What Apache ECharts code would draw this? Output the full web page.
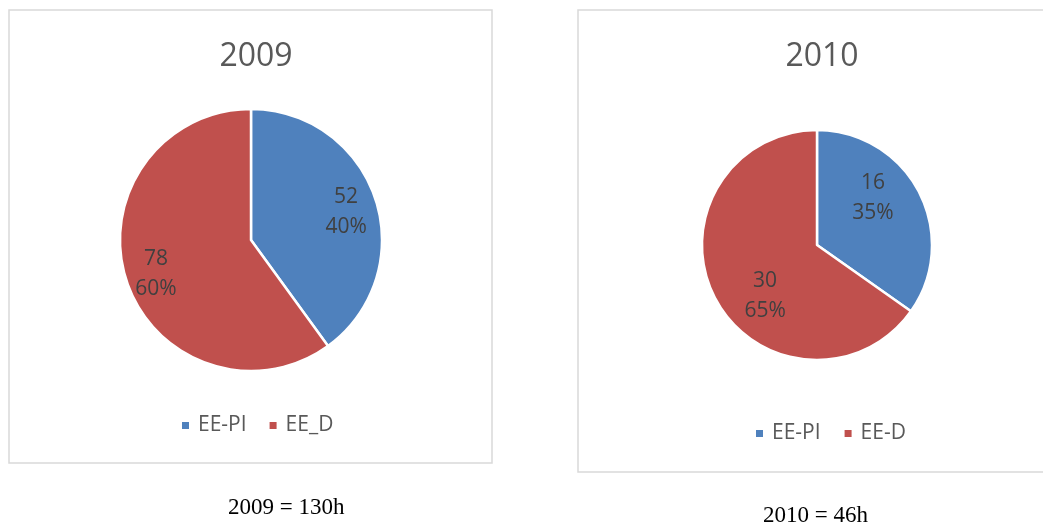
<!DOCTYPE html>
<html>
<head>
<meta charset="utf-8">
<script src="https://cdn.jsdelivr.net/npm/echarts@6/dist/echarts.min.js"></script>
<style>
  html, body { margin: 0; padding: 0; background: #fff; }
  #EchartPies { width: 1043px; height: 524px; }
</style>
</head>
<body>
<div id="EchartPies"></div>
<script>
const titles = ['2009', '2010']
const names2009 = ['EE-PI', 'EE_D']
const values2009 = [52, 78]
const names2010 = ['EE-PI', 'EE-D']
const values2010 = [16, 30]
const captions = ['2009 = 130h', '2010 = 46h']

const colors = ['#4f81bd', '#c0504d']

function toData(names, values) {
  return names.map((n, i) => ({ name: n, value: values[i] }))
}

function pieSeries(names, values, center, r) {
  return {
    type: 'pie',
    center: center,
    radius: [0, r],
    startAngle: 90,
    clockwise: true,
    percentPrecision: 0,
    silent: true,
    label: { show: false },
    labelLine: { show: false },
    emphasis: { disabled: true },
    itemStyle: {
      color: (p) => colors[p.dataIndex],
      borderColor: '#fff',
      borderWidth: 2.5
    },
    data: toData(names, values)
  }
}

// transparent ring on top, only used to put the labels where excel puts them
function labelSeries(names, values, center, r0, r, offsets) {
  const data = toData(names, values).map((d, i) => {
    d.label = { offset: offsets[i] }
    return d
  })
  return {
    type: 'pie',
    center: center,
    radius: [r0, r],
    startAngle: 90,
    clockwise: true,
    percentPrecision: 0,
    silent: true,
    emphasis: { disabled: true },
    itemStyle: { color: 'rgba(0,0,0,0)' },
    labelLine: { show: false },
    label: {
      show: true,
      position: 'inside',
      formatter: '{c}\n{d}%',
      fontFamily: 'Open Sans',
      fontSize: 21,
      lineHeight: 30,
      color: '#404040'
    },
    data: data
  }
}

function initEchart() {
  const chartDom = document.getElementById('EchartPies')
  const echartInstance = echarts.init(chartDom)

  const legendText = { fontFamily: 'Open Sans', fontSize: 21, color: '#595959', padding: [0, 0, 0, 3] }

  const option = {
    animation: false,
    title: [
      {
        text: titles[0],
        left: 251,
        top: 36,
        textAlign: 'center',
        textStyle: { fontFamily: 'Open Sans', fontSize: 32, fontWeight: 'normal', color: '#595959' }
      },
      {
        text: titles[1],
        left: 817,
        top: 36,
        textAlign: 'center',
        textStyle: { fontFamily: 'Open Sans', fontSize: 32, fontWeight: 'normal', color: '#595959' }
      }
    ],
    legend: [
      {
        data: names2009,
        left: 180,
        top: 415,
        padding: 0,
        icon: 'rect',
        itemWidth: 9,
        itemHeight: 9,
        itemGap: 21,
        selectedMode: false,
        textStyle: legendText
      },
      {
        data: names2010,
        left: 754,
        top: 423,
        padding: 0,
        icon: 'rect',
        itemWidth: 9,
        itemHeight: 9,
        itemGap: 22,
        selectedMode: false,
        textStyle: legendText
      }
    ],
    graphic: [
      {
        type: 'rect',
        shape: { x: 9, y: 10, width: 483, height: 453 },
        style: { fill: 'none', stroke: '#d9d9d9', lineWidth: 1.5 },
        silent: true
      },
      {
        type: 'rect',
        shape: { x: 578, y: 10, width: 480, height: 462 },
        style: { fill: 'none', stroke: '#d9d9d9', lineWidth: 1.5 },
        silent: true
      },
      {
        type: 'text',
        left: 228,
        top: 496,
        style: { text: captions[0], font: '23px "Liberation Serif"', fill: '#000' }
      },
      {
        type: 'text',
        left: 763,
        top: 504,
        style: { text: captions[1], font: '23px "Liberation Serif"', fill: '#000' }
      }
    ],
    series: [
      pieSeries(names2009, values2009, [251, 240], 131),
      pieSeries(names2010, values2010, [817, 245], 115),
      labelSeries(names2009, values2009, [251, 240], 63, 131, [[0, 3], [0, 3]]),
      labelSeries(names2010, values2010, [817, 245], 23, 115, [[-8, -14], [12, 18]])
    ]
  }
  echartInstance.setOption(option)
}

initEchart()
</script>
</body>
</html>
